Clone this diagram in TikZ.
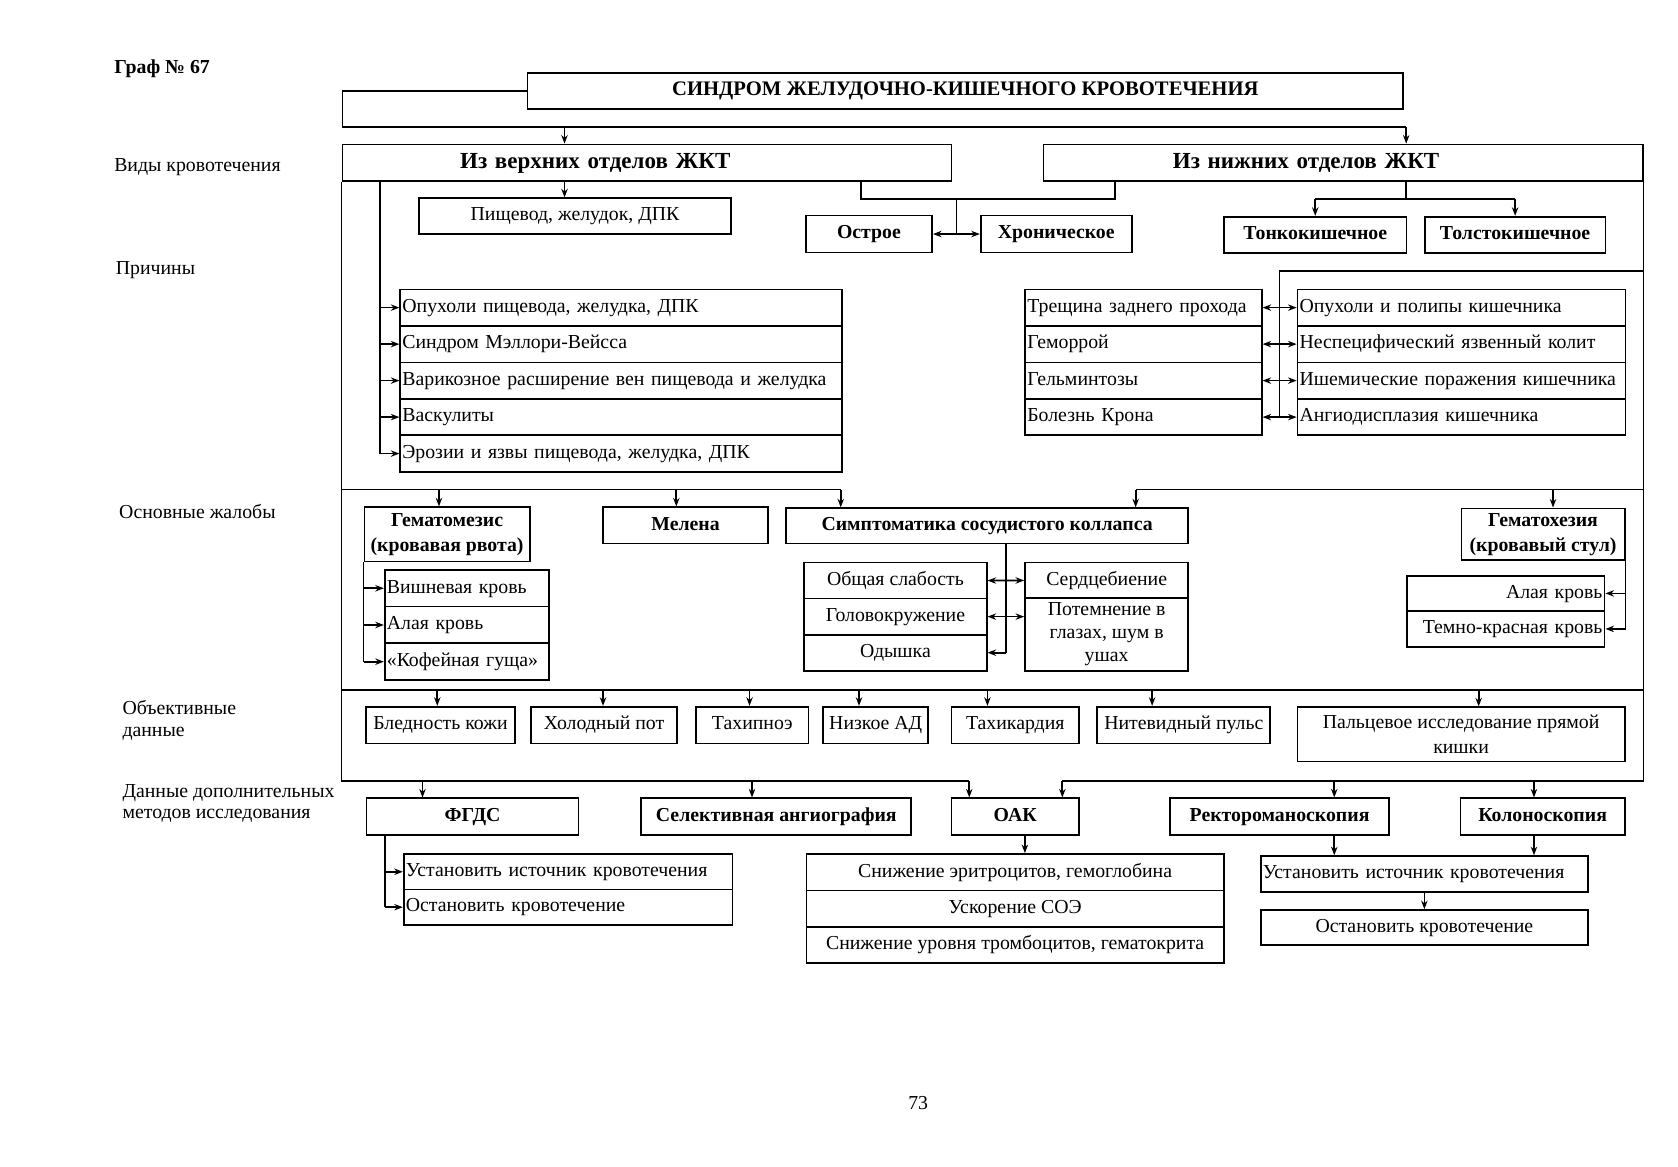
\documentclass[tikz,border=0pt]{standalone}
\usepackage{fontspec}
\setmainfont{Liberation Serif}
\usetikzlibrary{arrows.meta,calc}

\newcommand\fn{\fontsize{18.5}{21.5}\selectfont}
\newcommand\fb{\fontsize{18.5}{23.5}\selectfont\bfseries}
\newcommand\fh{\fontsize{21.5}{24}\selectfont\bfseries}
\newcommand\ft{\fontsize{19.3}{22}\selectfont\bfseries}

\begin{document}
\begin{tikzpicture}[x=1pt, y=-1pt, line width=1.6pt, font=\fn,
  box/.style 2 args = {draw, inner sep=0pt, align=center, minimum width=#1pt, minimum height=#2pt, text height=13pt, text depth=4pt},
  bbox/.style 2 args = {box={#1}{#2}, font=\fb},
  multi/.style = {text height={}, text depth={}},
  hdbox/.style 2 args = {draw, font=\fh, inner ysep=0pt, minimum height=34pt, align=left, inner xsep=#1pt, text width=#2pt, text height=15pt, text depth=5pt},
  lrow/.style 2 args = {draw, inner xsep=2pt, inner ysep=0pt, align=left, text width=#1pt, minimum height=#2pt, text height=13pt, text depth=4pt},
  rrow/.style 2 args = {lrow={#1}{#2}, align=right},
  arr/.style = {-{Stealth[length=8pt, width=6pt]}},
  dbl/.style = {{Stealth[length=8pt, width=6pt]}-{Stealth[length=8pt, width=6pt]}},
  lbl/.style = {anchor=west, inner sep=0pt, align=left}]

\useasboundingbox (0,0) rectangle (1568,1090);

% side labels
\node[lbl, font=\fb] (graf) at (106,64) {Граф № 67};
\node[lbl] (vid) at (106,156) {Виды кровотечения};
\node[lbl] (prich) at (107.5,252) {Причины};
\node[lbl] (osn) at (110.6,478) {Основные жалобы};
\node[lbl, font=\fontsize{18.5}{21}\selectfont] (obj) at (113.7,673) {Объективные\\данные};
\node[lbl, font=\fontsize{18.5}{19}\selectfont] (dop) at (113.7,750.6) {Данные дополнительных\\методов исследования};

% title and kinds
\node[box={818}{34}, font=\ft] (title) at (902,85) {СИНДРОМ ЖЕЛУДОЧНО-КИШЕЧНОГО КРОВОТЕЧЕНИЯ};
\node[hdbox={110}{349}] (upper) at (604.5,152) {Из верхних отделов ЖКТ};
\node[hdbox={121}{318}] (lower) at (1255,152) {Из нижних отделов ЖКТ};

\node[box={291}{33.5}] (pish) at (537.3,202) {Пищевод, желудок, ДПК};
\node[bbox={118}{34.5}] (ostr) at (812,218.7) {Острое};
\node[bbox={141.2}{34.5}] (hron) at (987,218.7) {Хроническое};
\node[bbox={170.6}{33.6}] (tonk) at (1229,219.3) {Тонкокишечное};
\node[bbox={168.6}{33.6}] (tolst) at (1415.8,219.3) {Толстокишечное};

% causes
\node[lrow={409}{34.1}] (c1) at (580.5,287.45) {Опухоли пищевода, желудка, ДПК};
\node[lrow={409}{34.1}] (c2) at (580.5,321.55) {Синдром Мэллори-Вейсса};
\node[lrow={409}{34.1}] (c3) at (580.5,355.65) {Варикозное расширение вен пищевода и желудка};
\node[lrow={409}{34.1}] (c4) at (580.5,389.75) {Васкулиты};
\node[lrow={409}{34.1}] (c5) at (580.5,423.85) {Эрозии и язвы пищевода, желудка, ДПК};

\node[lrow={217}{34.1}] (l1) at (1068.5,287.45) {Трещина заднего прохода};
\node[lrow={217}{34.1}] (l2) at (1068.5,321.55) {Геморрой};
\node[lrow={217}{34.1}] (l3) at (1068.5,355.65) {Гельминтозы};
\node[lrow={217}{34.1}] (l4) at (1068.5,389.75) {Болезнь Крона};

\node[lrow={302.6}{34.1}] (r1) at (1365.7,287.45) {Опухоли и полипы кишечника};
\node[lrow={302.6}{34.1}] (r2) at (1365.7,321.55) {Неспецифический язвенный колит};
\node[lrow={302.6}{34.1}] (r3) at (1365.7,355.65) {Ишемические поражения кишечника};
\node[lrow={302.6}{34.1}] (r4) at (1365.7,389.75) {Ангиодисплазия кишечника};

% main complaints
\node[bbox={154.5}{50.8}, multi] (gem) at (417.8,499.4) {Гематомезис\\(кровавая рвота)};
\node[bbox={154.4}{33.7}] (mel) at (640.6,490.9) {Мелена};
\node[bbox={376}{33}] (sym) at (922.4,491.4) {Симптоматика сосудистого коллапса};
\node[bbox={152.5}{48.3}, multi] (hzs) at (1441.9,499.2) {Гематохезия\\(кровавый стул)};

\node[lrow={149.5}{34.3}] (g1) at (436.25,549.7) {Вишневая кровь};
\node[lrow={149.5}{34.3}] (g2) at (436.25,584) {Алая кровь};
\node[lrow={149.5}{34.3}] (g3) at (436.25,618.3) {«Кофейная гуща»};

\node[box={170.5}{33.7}] (s1) at (836.75,542.5) {Общая слабость};
\node[box={170.5}{33.7}] (s2) at (836.75,576.2) {Головокружение};
\node[box={170.5}{33.7}] (s3) at (836.75,609.9) {Одышка};
\node[box={152.6}{33.4}] (serd) at (1034.1,542.4) {Сердцебиение};
\node[box={152.6}{67.6}, multi] (pot) at (1034.1,592.9) {Потемнение в\\глазах, шум в\\ушах};

\node[rrow={180.6}{33.2}] (h1) at (1407.1,554.5) {Алая кровь};
\node[rrow={180.6}{33.2}] (h2) at (1407.1,587.7) {Темно-красная кровь};

% objective data
\node[box={139.8}{34.3}] (bled) at (411.6,677.5) {Бледность кожи};
\node[box={136.8}{34.3}] (hol) at (564.5,677.5) {Холодный пот};
\node[box={105.1}{34.3}] (tah) at (703,677.5) {Тахипноэ};
\node[box={98}{34.3}] (nizk) at (818.3,677.5) {Низкое АД};
\node[box={119.3}{34.3}] (tahk) at (948.7,677.5) {Тахикардия};
\node[box={161.7}{34.3}] (nit) at (1106.2,677.5) {Нитевидный пульс};
\node[box={305.8}{50.8}, multi, font=\fontsize{18.5}{23}\selectfont] (palc) at (1365.3,686.3) {Пальцевое исследование прямой\\кишки};

% additional methods
\node[bbox={198.1}{34.2}] (fgds) at (441.6,763.1) {ФГДС};
\node[bbox={252.3}{34.2}] (sel) at (725.4,763.1) {Селективная ангиография};
\node[bbox={119.2}{34.2}] (oak) at (948.7,763.1) {ОАК};
\node[bbox={204.9}{34.2}] (rect) at (1195.7,763.1) {Ректороманоскопия};
\node[bbox={153.5}{34.2}] (kolon) at (1441.5,763.1) {Колоноскопия};

\node[lrow={303.4}{33.2}] (f1) at (530.9,814.6) {Установить источник кровотечения};
\node[lrow={303.4}{33.2}] (f2) at (530.9,847.7) {Остановить кровотечение};

\node[box={390.2}{34}] (o1) at (948.6,815) {Снижение эритроцитов, гемоглобина};
\node[box={390.2}{34}] (o2) at (948.6,849) {Ускорение СОЭ};
\node[box={390.2}{34}] (o3) at (948.6,883) {Снижение уровня тромбоцитов, гематокрита};

\node[lrow={302}{33.2}] (ust) at (1331,816.6) {Установить источник кровотечения};
\node[box={306}{32.7}] (ost) at (1331,866.7) {Остановить кровотечение};

\node (pg) at (858,1031) {73};

% title -> kinds
\coordinate (brk) at (320,119);
\coordinate (a1) at ([xshift=-77pt]upper.north);
\coordinate (a2) at ([xshift=59pt]lower.north);
\draw (title.west) -| (brk) -- (brk -| a2);
\draw[arr] (brk -| a1) -- (a1);
\draw[arr] (brk -| a2) -- (a2);
\draw[arr] (a1 |- upper.south) -- (a1 |- pish.north);

% acute / chronic
\coordinate (j1) at ([xshift=-85pt]upper.south east);
\coordinate (j2) at ([xshift=68pt]lower.south west);
\coordinate (jl) at ([yshift=-16pt]j1);
\coordinate (jm) at ($(ostr.east)!.5!(hron.west)$);
\draw (j1) -- (jl) -| (j2);
\draw (jm |- jl) -- (jm);
\draw[dbl] (ostr.east) -- (hron.west);

% small / large bowel
\draw (a2 |- lower.south) -- (a2 |- jl);
\draw (tonk.north |- jl) -- (tolst.north |- jl);
\draw[arr] (tonk.north |- jl) -- (tonk.north);
\draw[arr] (tolst.north |- jl) -- (tolst.north);

% causes, upper
\coordinate (iv) at ([xshift=36pt]upper.south west);
\draw (iv) -- (iv |- c5.west);
\foreach \i in {1,...,5}
  \draw[arr] (iv |- c\i.west) -- (c\i.west);

% causes, lower
\coordinate (cv) at ($(l1.east)!.5!(r1.west)$);
\coordinate (lvc) at ([yshift=16.5pt]r1.north);
\draw (lower.south east |- lvc) -- (cv |- lvc) -- (cv |- l4.east);
\foreach \i in {1,...,4}
  \draw[dbl] (l\i.east) -- (r\i.west);

% frame
\coordinate (lv2) at (0,457.5);
\coordinate (lv3) at (0,645);
\coordinate (lv4) at (0,729.5);
\coordinate (sA) at ([xshift=52pt]sym.north west);
\coordinate (sB) at ([xshift=-50pt]sym.north east);
\coordinate (oA) at ([xshift=-43pt]oak.north);
\coordinate (oB) at ([xshift=44pt]oak.north);
\draw (upper.south west) -- (upper.south west |- lv4) -- (oA |- lv4);
\draw (lower.south east) -- (lower.south east |- lv4) -- (oB |- lv4);
\draw (upper.south west |- lv3) -- (lower.south east |- lv3);
\draw (upper.south west |- lv2) -- (sA |- lv2);
\draw (lower.south east |- lv2) -- (sB |- lv2);

% complaints
\foreach \n/\s in {gem/-7.6, mel/-8.6, hzs/9.3} {
  \coordinate (t) at ([shift={(\s,0)}]\n.north);
  \draw[arr] (t |- lv2) -- (t);
}
\draw[arr] (sA |- lv2) -- (sA);
\draw[arr] (sB |- lv2) -- (sB);

\draw (gem.south west) -- (gem.south west |- g3.west);
\foreach \i in {1,2,3}
  \draw[arr] (gem.south west |- g\i.west) -- (g\i.west);

\coordinate (sv) at ($(s1.east)!.5!(serd.west)$);
\draw (sv |- sym.south) -- (sv |- s3.east);
\draw[dbl] (s1.east) -- (serd.west);
\draw[dbl] (s2.east) -- (s2.east -| pot.west);
\draw[arr] (sv |- s3.east) -- (s3.east);

\draw (hzs.south east) -- (hzs.south east |- h2.east);
\foreach \i in {1,2}
  \draw[arr] (hzs.south east |- h\i.east) -- (h\i.east);

% objective data
\foreach \n/\s in {bled/-3, hol/-1, tah/-2.6, nizk/-15.6, tahk/-26, nit/-29.6, palc/16.4} {
  \coordinate (t) at ([shift={(\s,0)}]\n.north);
  \draw[arr] (t |- lv3) -- (t);
}

% additional methods
\foreach \n/\s in {fgds/-46.8, sel/-22.7, rect/51.1, kolon/-8.1} {
  \coordinate (t) at ([shift={(\s,0)}]\n.north);
  \draw[arr] (t |- lv4) -- (t);
}
\draw[arr] (oA |- lv4) -- (oA);
\draw[arr] (oB |- lv4) -- (oB);

\coordinate (fv) at ([xshift=18pt]fgds.south west);
\draw (fv) -- (fv |- f2.west);
\foreach \i in {1,2}
  \draw[arr] (fv |- f\i.west) -- (f\i.west);

\coordinate (oc) at ([xshift=9pt]oak.south);
\draw[arr] (oc) -- (oc |- o1.north);
\coordinate (rc) at ([xshift=51.1pt]rect.south);
\draw[arr] (rc) -- (rc |- ust.north);
\coordinate (kc) at ([xshift=-8.1pt]kolon.south);
\draw[arr] (kc) -- (kc |- ust.north);
\draw[arr] (ust) -- (ost);

\end{tikzpicture}
\end{document}
